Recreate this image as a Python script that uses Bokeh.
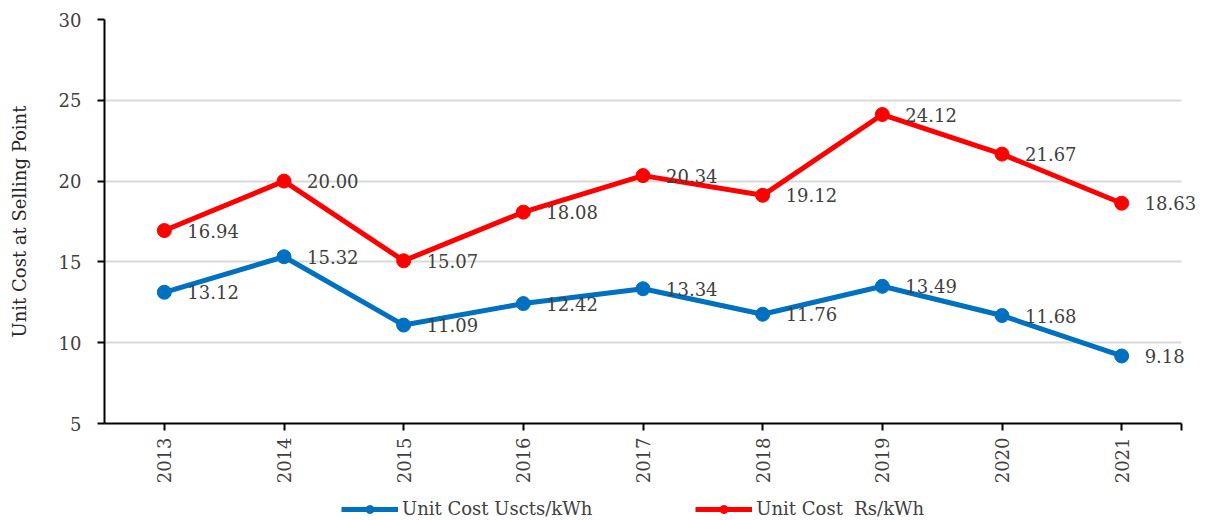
from bokeh.plotting import figure
from bokeh.models import ColumnDataSource, Range1d, Legend, LegendItem, FixedTicker, LabelSet
from bokeh.layouts import column
from bokeh.embed import file_html
from bokeh.resources import INLINE
from bokeh.core.properties import value
import math

years = ["2013", "2014", "2015", "2016", "2017", "2018", "2019", "2020", "2021"]
usc_kwh = [13.12, 15.32, 11.09, 12.42, 13.34, 11.76, 13.49, 11.68, 9.18]
rs_kwh = [16.94, 20.00, 15.07, 18.08, 20.34, 19.12, 24.12, 21.67, 18.63]
y_ticks = [5, 10, 15, 20, 25, 30]
series_names = ["Unit Cost Uscts/kWh", "Unit Cost  Rs/kWh"]

FONT = "DejaVu Serif"
TXT = "#404040"
BLUE = "#0070C0"
RED = "#FF0000"

idx = list(range(len(years)))
n = len(years)
W, LEFT = 1208, 104
cat_px = (1181 - LEFT) / n          # pixel width of one category slot
extra = (W - 1181) / cat_px         # room on the right for the last label

p = figure(width=W, height=492, x_range=Range1d(-0.5, n - 0.5 + extra), y_range=Range1d(5, 30),
           output_backend="svg", toolbar_location=None,
           min_border_left=LEFT, min_border_right=0, min_border_top=19, min_border_bottom=69)
p.outline_line_color = None
p.background_fill_color = "white"

src_b = ColumnDataSource(dict(x=idx, y=usc_kwh, t=[f"{v:.2f}" for v in usc_kwh]))
src_r = ColumnDataSource(dict(x=idx, y=rs_kwh, t=[f"{v:.2f}" for v in rs_kwh]))

p.line("x", "y", source=src_b, line_color=BLUE, line_width=5)
p.scatter("x", "y", source=src_b, size=14, fill_color=BLUE, line_color=BLUE)
p.line("x", "y", source=src_r, line_color=RED, line_width=5)
p.scatter("x", "y", source=src_r, size=14, fill_color=RED, line_color=RED)

for src in (src_b, src_r):
    p.add_layout(LabelSet(x="x", y="y", text="t", source=src, x_offset=23, y_offset=0,
                          text_font=value(FONT), text_font_size=value("18px"),
                          text_color=value(TXT),
                          text_align="left", text_baseline="middle"))

# y axis
p.yaxis.ticker = FixedTicker(ticks=y_ticks)
p.yaxis.axis_line_color = "black"
p.yaxis.axis_line_width = 2
p.yaxis.major_tick_line_color = "black"
p.yaxis.major_tick_line_width = 2
p.yaxis.major_tick_out = 7
p.yaxis.major_tick_in = 0
p.yaxis.minor_tick_line_color = None
p.yaxis.major_label_text_font = FONT
p.yaxis.major_label_text_font_size = "18px"
p.yaxis.major_label_text_color = TXT
p.yaxis.major_label_standoff = 16
p.yaxis.axis_label = "Unit Cost at Selling Point"
p.yaxis.axis_label_text_font = FONT
p.yaxis.axis_label_text_font_size = "18px"
p.yaxis.axis_label_text_font_style = "normal"
p.yaxis.axis_label_text_color = "#262626"
p.yaxis.axis_label_standoff = 26

# x axis (categories)
p.xaxis.bounds = (-0.5, n - 0.5)
p.xaxis.ticker = FixedTicker(ticks=idx + [n - 0.5])
overrides = {i: y for i, y in zip(idx, years)}
overrides[n - 0.5] = ""
p.xaxis.major_label_overrides = overrides
p.xaxis.axis_line_color = "black"
p.xaxis.axis_line_width = 2
p.xaxis.major_tick_line_color = "black"
p.xaxis.major_tick_line_width = 2
p.xaxis.major_tick_out = 7
p.xaxis.major_tick_in = 0
p.xaxis.minor_tick_line_color = None
p.xaxis.major_label_orientation = math.pi / 2
p.xaxis.major_label_text_font = FONT
p.xaxis.major_label_text_font_size = "18px"
p.xaxis.major_label_text_color = TXT
p.xaxis.major_label_standoff = 7

p.xgrid.grid_line_color = None
p.ygrid.grid_line_color = "#D9D9D9"
p.ygrid.grid_line_width = 2
p.ygrid.ticker = FixedTicker(ticks=y_ticks[1:])
try:
    p.ygrid.cross_bounds = (-0.5, n - 0.5)
except Exception:
    pass

# legend strip below the chart (proxy renderers kept out of view)
p2 = figure(width=W, height=28, x_range=Range1d(0, 1), y_range=Range1d(-100, -99),
            output_backend="svg", toolbar_location=None,
            min_border_left=LEFT, min_border_right=0, min_border_top=0, min_border_bottom=0)
p2.axis.visible = False
p2.grid.grid_line_color = None
p2.outline_line_color = None
gb1 = p2.line("x", "y", source=src_b, line_color=BLUE, line_width=5)
gb2 = p2.scatter("x", "y", source=src_b, size=11, fill_color=BLUE, line_color=BLUE)
gr1 = p2.line("x", "y", source=src_r, line_color=RED, line_width=5)
gr2 = p2.scatter("x", "y", source=src_r, size=11, fill_color=RED, line_color=RED)

legend = Legend(items=[
    LegendItem(label=series_names[0], renderers=[gb1, gb2]),
    LegendItem(label=series_names[1], renderers=[gr1, gr2]),
], orientation="horizontal", location=(343 - 2 - LEFT, 1))
legend.label_text_font = FONT
legend.label_text_font_size = "18px"
legend.label_text_color = TXT
legend.glyph_width = 57
legend.glyph_height = 20
legend.label_standoff = 4
legend.spacing = 103
legend.border_line_color = None
legend.background_fill_alpha = 0
legend.margin = 0
legend.padding = 2
p2.add_layout(legend, "center")

layout = column(p, p2, spacing=0)
open("out.html", "w").write(file_html(layout, INLINE))
